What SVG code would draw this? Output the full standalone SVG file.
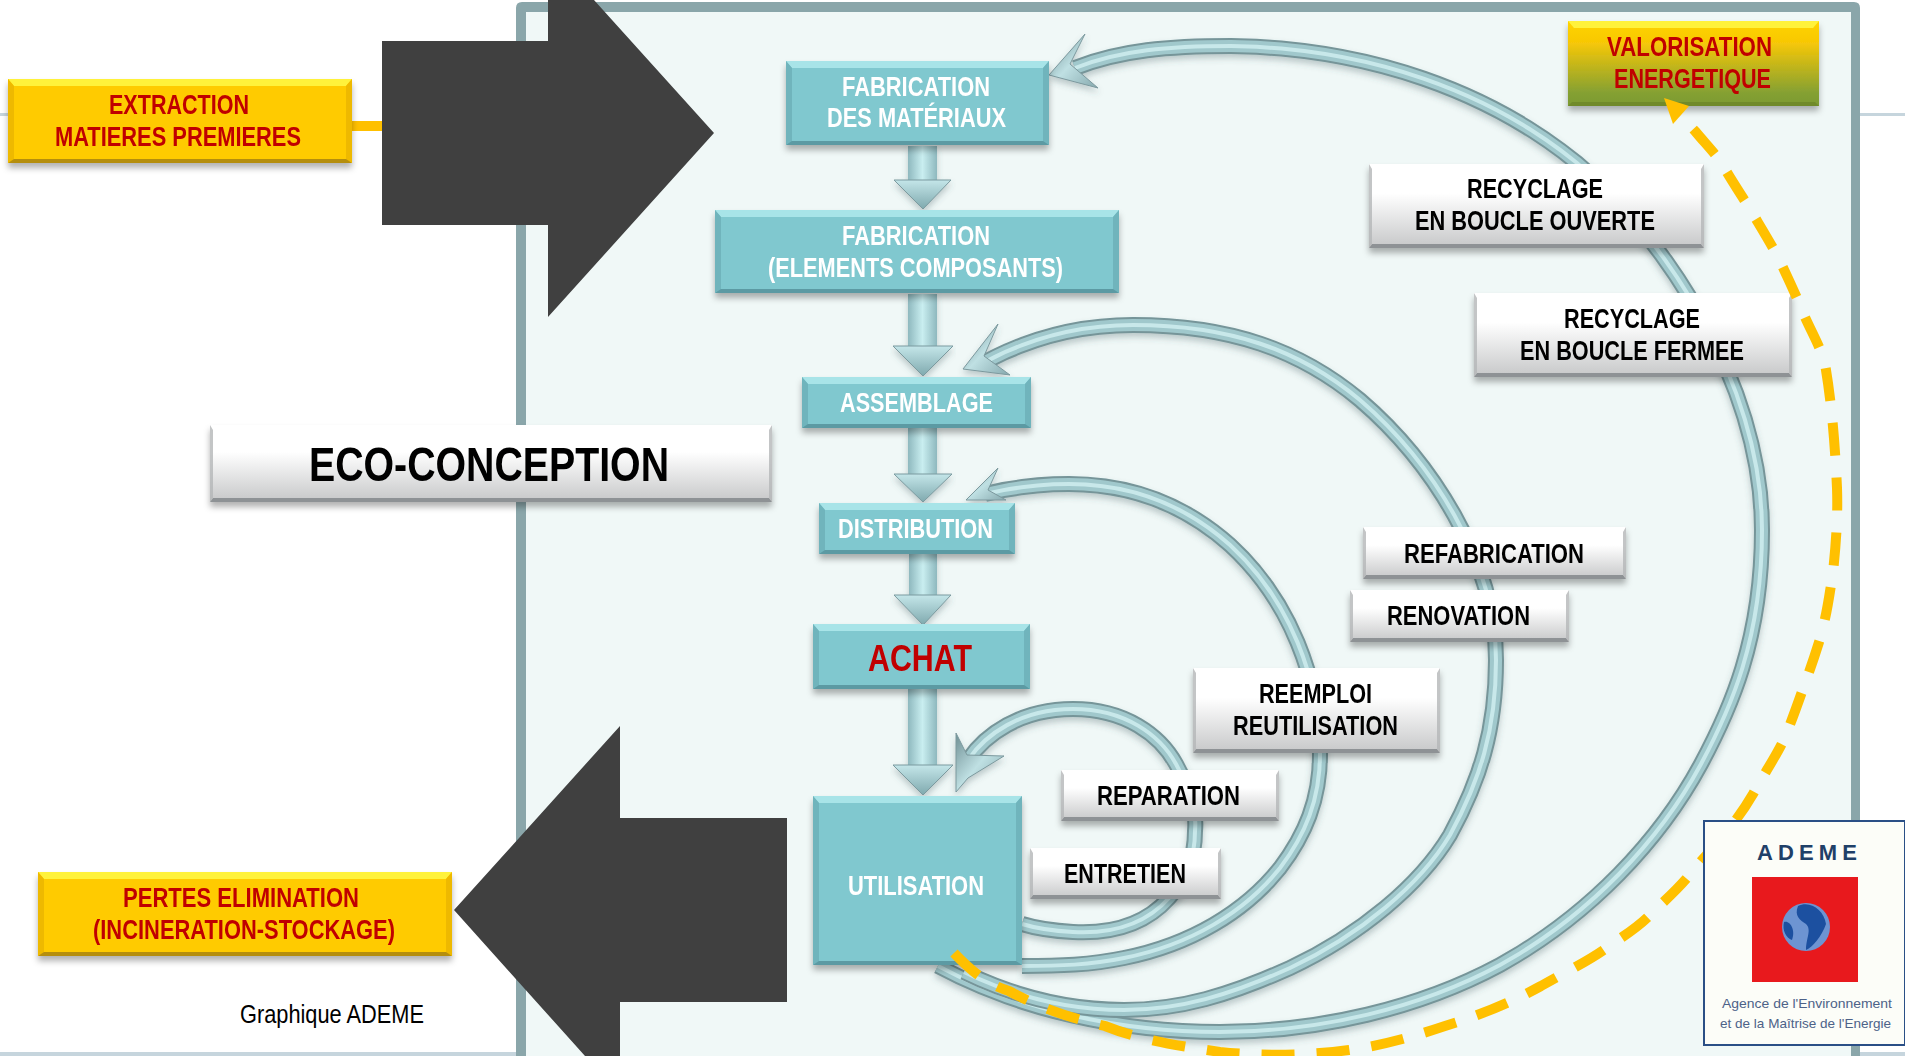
<svg xmlns="http://www.w3.org/2000/svg" xmlns:xlink="http://www.w3.org/1999/xlink" width="1905" height="1056" viewBox="0 0 1905 1056">
<style>
text{font-family:"Liberation Sans",Arial,sans-serif;font-weight:700;font-size:27px}
.w{fill:#fff}.k{fill:#000}.r{fill:#c00000}
.ct{fill:#a8e4e8}.cb{fill:#5c9aa3}.cs{fill:#6fb4bc}.cf{fill:#80c8cf}
.wf{fill:url(#gw)}.wb{fill:#8e9295}.ws{fill:#b4b6b8;opacity:.8}
.yf{fill:#ffcb05}.yt{fill:#fff23a}.yb{fill:#b58e0e}.ys{fill:#eeb900}
.cv1{fill:none;stroke:#769599;stroke-width:16}
.cv2{fill:none;stroke:#a0c8cc;stroke-width:12}
.cv3{fill:none;stroke:#c8e8ea;stroke-width:4}
.hd{fill:url(#gh);stroke:#7c999e;stroke-width:1;stroke-linejoin:miter}
.sh{fill:url(#gs)}.hv{fill:url(#gv);stroke:#7b9a9f;stroke-width:1}
.dark{fill:#404040}
</style>
<defs>
<linearGradient id="gw" x1="0" y1="0" x2="0" y2="1"><stop offset="0" stop-color="#fff"/><stop offset=".35" stop-color="#fff"/><stop offset="1" stop-color="#c6c7c8"/></linearGradient>
<linearGradient id="gy" x1="0" y1="0" x2="0" y2="1"><stop offset="0" stop-color="#ffd400"/><stop offset=".25" stop-color="#f8c806"/><stop offset=".85" stop-color="#84a033"/><stop offset="1" stop-color="#7c9a30"/></linearGradient>
<linearGradient id="gs" x1="0" y1="0" x2="1" y2="0"><stop offset="0" stop-color="#8eb8be"/><stop offset=".5" stop-color="#c9eef0"/><stop offset="1" stop-color="#8eb8be"/></linearGradient>
<linearGradient id="gv" x1="0" y1="0" x2="0" y2="1"><stop offset="0" stop-color="#c4e6e9"/><stop offset="1" stop-color="#7fa9ae"/></linearGradient>
<linearGradient id="gh" x1="0" y1="0" x2="1" y2="1"><stop offset="0" stop-color="#6f8f94"/><stop offset=".5" stop-color="#bfe0e3"/><stop offset="1" stop-color="#86a9ae"/></linearGradient>
<filter id="ds" x="-10%" y="-20%" width="120%" height="150%"><feDropShadow dx="0" dy="5" stdDeviation="3" flood-color="#000" flood-opacity=".3"/></filter>
<filter id="cs" x="-5%" y="-5%" width="110%" height="110%"><feDropShadow dx="0" dy="4" stdDeviation="3" flood-color="#405a5e" flood-opacity=".3"/></filter>
<path id="p1" d="M1075,68 C1120,50 1170,46 1231,46 C1370,48 1490,92 1577,163 C1660,232 1762,380 1762,530 C1762,640 1730,710 1701,764 C1660,840 1590,915 1500,965 C1420,1008 1320,1032 1220,1032 C1120,1032 1020,1010 938,966"/>
<path id="p2" d="M985,362 C1030,338 1080,325 1133,325 C1230,325 1300,350 1360,400 C1430,460 1496,560 1496,660 C1496,730 1480,780 1450,835 C1420,885 1360,935 1290,968 C1230,995 1180,1010 1124,1010 C1060,1010 1005,992 964,972"/>
<path id="p3" d="M985,494 C1010,488 1040,484 1069,484 C1130,484 1185,505 1230,545 C1290,600 1320,680 1320,754 C1320,800 1305,835 1280,868 C1245,912 1190,945 1124,958 C1090,965 1060,966 1022,966"/>
<path id="p4" d="M968,760 C985,735 1020,709 1073,709 C1125,709 1160,735 1176,764 C1190,790 1197,810 1195,831 C1195,860 1185,880 1169,898 C1145,925 1110,934 1073,932 C1055,931 1035,928 1022,924"/>
</defs>

<rect width="1905" height="1056" fill="#fff"/>
<g id="background-lines" fill="#c6d5dd">
<rect x="0" y="113" width="10" height="3"/><rect x="1860" y="113" width="45" height="3"/>
<rect x="0" y="1052" width="516" height="4"/><rect x="1860" y="1052" width="45" height="4"/>
</g>
<g id="panel"><path d="M516,1056 V8 Q516,2 522,2 H1854 Q1860,2 1860,8 V1056 H1851 V12 H526 V1056 Z" fill="#8aa6aa"/><rect x="526" y="12" width="1325" height="1044" fill="#f0f8f7"/></g>

<g id="connectors">
<rect x="352" y="121" width="32" height="10" fill="#ffc000"/>
<g filter="url(#cs)">
<use xlink:href="#p1" href="#p1" class="cv1"/><use xlink:href="#p1" href="#p1" class="cv2"/><use xlink:href="#p1" href="#p1" class="cv3"/>
<use xlink:href="#p2" href="#p2" class="cv1"/><use xlink:href="#p2" href="#p2" class="cv2"/><use xlink:href="#p2" href="#p2" class="cv3"/>
<use xlink:href="#p3" href="#p3" class="cv1"/><use xlink:href="#p3" href="#p3" class="cv2"/><use xlink:href="#p3" href="#p3" class="cv3"/>
<use xlink:href="#p4" href="#p4" class="cv1"/><use xlink:href="#p4" href="#p4" class="cv2"/><use xlink:href="#p4" href="#p4" class="cv3"/>
<path class="hd" d="M1049,75 L1085,34 L1070,64 L1098,88 Z"/>
<path class="hd" d="M963,369 L998,324 L984,356 L1010,375 Z"/>
<path class="hd" d="M966,500 L998,468 L988,490 L1006,500 Z"/>
<path class="hd" d="M956,792 L956,733 L967,755 L1004,756 L968,778 Z"/>
</g>
<g id="down-arrows" filter="url(#cs)">
<rect class="sh" x="908" y="146" width="29" height="34"/><path class="hv" d="M894,180 H951 L923,209 Z"/>
<rect class="sh" x="908" y="294" width="29" height="52"/><path class="hv" d="M893,346 H953 L923,376 Z"/>
<rect class="sh" x="908" y="428" width="29" height="46"/><path class="hv" d="M894,474 H952 L923,502 Z"/>
<rect class="sh" x="909" y="554" width="28" height="41"/><path class="hv" d="M894,595 H951 L923,625 Z"/>
<rect class="sh" x="908" y="689" width="29" height="76"/><path class="hv" d="M893,765 H953 L923,795 Z"/>
</g>
</g>

<g id="arrow-in"><path class="dark" d="M382,41 H548 V0 H594 L714,133 L548,317 V225 H382 Z"/></g>
<g id="arrow-out"><path class="dark" d="M454,910 L620,726 V818 H787 V1002 H620 V1056 H585 Z"/></g>

<g id="fabrication-materiaux" filter="url(#ds)"><rect class="cf" x="786" y="61" width="263" height="84"/><path class="ct" d="M786,61 H1049 L1043,68 H792 Z"/><path class="cb" d="M786,145 H1049 L1045,141 H790 Z"/><path class="cs" d="M786,61 L792,68 V141 L786,145 Z M1049,61 L1043,68 V141 L1049,145 Z"/>
<text class="w" x="842" y="96" textLength="148" lengthAdjust="spacingAndGlyphs">FABRICATION</text><text class="w" x="827" y="127" textLength="179" lengthAdjust="spacingAndGlyphs">DES MATÉRIAUX</text></g>
<g id="fabrication-composants" filter="url(#ds)"><rect class="cf" x="715" y="210" width="404" height="83"/><path class="ct" d="M715,210 H1119 L1113,217 H721 Z"/><path class="cb" d="M715,293 H1119 L1115,289 H719 Z"/><path class="cs" d="M715,210 L721,217 V289 L715,293 Z M1119,210 L1113,217 V289 L1119,293 Z"/>
<text class="w" x="842" y="245" textLength="148" lengthAdjust="spacingAndGlyphs">FABRICATION</text><text class="w" x="768" y="277" textLength="295" lengthAdjust="spacingAndGlyphs">(ELEMENTS COMPOSANTS)</text></g>
<g id="assemblage" filter="url(#ds)"><rect class="cf" x="802" y="377" width="229" height="51"/><path class="ct" d="M802,377 H1031 L1025,384 H808 Z"/><path class="cb" d="M802,428 H1031 L1027,424 H806 Z"/><path class="cs" d="M802,377 L808,384 V424 L802,428 Z M1031,377 L1025,384 V424 L1031,428 Z"/>
<text class="w" x="840" y="412" textLength="153" lengthAdjust="spacingAndGlyphs">ASSEMBLAGE</text></g>
<g id="distribution" filter="url(#ds)"><rect class="cf" x="819" y="503" width="196" height="51"/><path class="ct" d="M819,503 H1015 L1009,510 H825 Z"/><path class="cb" d="M819,554 H1015 L1011,550 H823 Z"/><path class="cs" d="M819,503 L825,510 V550 L819,554 Z M1015,503 L1009,510 V550 L1015,554 Z"/>
<text class="w" x="838" y="538" textLength="155" lengthAdjust="spacingAndGlyphs">DISTRIBUTION</text></g>
<g id="achat" filter="url(#ds)"><rect class="cf" x="813" y="624" width="217" height="65"/><path class="ct" d="M813,624 H1030 L1024,631 H819 Z"/><path class="cb" d="M813,689 H1030 L1026,685 H817 Z"/><path class="cs" d="M813,624 L819,631 V685 L813,689 Z M1030,624 L1024,631 V685 L1030,689 Z"/>
<text class="r" x="868" y="671" style="font-size:37px" textLength="104" lengthAdjust="spacingAndGlyphs">ACHAT</text></g>
<g id="utilisation" filter="url(#ds)"><rect class="cf" x="813" y="796" width="209" height="169"/><path class="ct" d="M813,796 H1022 L1016,803 H819 Z"/><path class="cb" d="M813,965 H1022 L1018,961 H817 Z"/><path class="cs" d="M813,796 L819,803 V961 L813,965 Z M1022,796 L1016,803 V961 L1022,965 Z"/>
<text class="w" x="848" y="895" textLength="136" lengthAdjust="spacingAndGlyphs">UTILISATION</text></g>

<g id="eco-conception" filter="url(#ds)"><rect class="wf" x="210" y="425" width="562" height="77"/><path class="wb" d="M210,502 H772 L769,498 H213 Z"/><path class="ws" d="M210,425 L213,430 V498 L210,502 Z M772,425 L769,430 V498 L772,502 Z"/>
<text class="k" x="309" y="481" style="font-size:49px" textLength="360" lengthAdjust="spacingAndGlyphs">ECO-CONCEPTION</text></g>
<g id="recyclage-ouverte" filter="url(#ds)"><rect class="wf" x="1369" y="164" width="335" height="84"/><path class="wb" d="M1369,248 H1704 L1701,244 H1372 Z"/><path class="ws" d="M1369,164 L1372,169 V244 L1369,248 Z M1704,164 L1701,169 V244 L1704,248 Z"/>
<text class="k" x="1467" y="198" textLength="136" lengthAdjust="spacingAndGlyphs">RECYCLAGE</text><text class="k" x="1415" y="230" textLength="240" lengthAdjust="spacingAndGlyphs">EN BOUCLE OUVERTE</text></g>
<g id="recyclage-fermee" filter="url(#ds)"><rect class="wf" x="1474" y="293" width="318" height="84"/><path class="wb" d="M1474,377 H1792 L1789,373 H1477 Z"/><path class="ws" d="M1474,293 L1477,298 V373 L1474,377 Z M1792,293 L1789,298 V373 L1792,377 Z"/>
<text class="k" x="1564" y="328" textLength="136" lengthAdjust="spacingAndGlyphs">RECYCLAGE</text><text class="k" x="1520" y="360" textLength="224" lengthAdjust="spacingAndGlyphs">EN BOUCLE FERMEE</text></g>
<g id="refabrication" filter="url(#ds)"><rect class="wf" x="1363" y="527" width="263" height="52"/><path class="wb" d="M1363,579 H1626 L1623,575 H1366 Z"/><path class="ws" d="M1363,527 L1366,532 V575 L1363,579 Z M1626,527 L1623,532 V575 L1626,579 Z"/>
<text class="k" x="1404" y="563" textLength="180" lengthAdjust="spacingAndGlyphs">REFABRICATION</text></g>
<g id="renovation" filter="url(#ds)"><rect class="wf" x="1350" y="590" width="219" height="52"/><path class="wb" d="M1350,642 H1569 L1566,638 H1353 Z"/><path class="ws" d="M1350,590 L1353,595 V638 L1350,642 Z M1569,590 L1566,595 V638 L1569,642 Z"/>
<text class="k" x="1387" y="625" textLength="143" lengthAdjust="spacingAndGlyphs">RENOVATION</text></g>
<g id="reemploi" filter="url(#ds)"><rect class="wf" x="1193" y="668" width="247" height="85"/><path class="wb" d="M1193,753 H1440 L1437,749 H1196 Z"/><path class="ws" d="M1193,668 L1196,673 V749 L1193,753 Z M1440,668 L1437,673 V749 L1440,753 Z"/>
<text class="k" x="1259" y="703" textLength="113" lengthAdjust="spacingAndGlyphs">REEMPLOI</text><text class="k" x="1233" y="735" textLength="165" lengthAdjust="spacingAndGlyphs">REUTILISATION</text></g>
<g id="reparation" filter="url(#ds)"><rect class="wf" x="1061" y="770" width="218" height="51"/><path class="wb" d="M1061,821 H1279 L1276,817 H1064 Z"/><path class="ws" d="M1061,770 L1064,775 V817 L1061,821 Z M1279,770 L1276,775 V817 L1279,821 Z"/>
<text class="k" x="1097" y="805" textLength="143" lengthAdjust="spacingAndGlyphs">REPARATION</text></g>
<g id="entretien" filter="url(#ds)"><rect class="wf" x="1030" y="848" width="191" height="51"/><path class="wb" d="M1030,899 H1221 L1218,895 H1033 Z"/><path class="ws" d="M1030,848 L1033,853 V895 L1030,899 Z M1221,848 L1218,853 V895 L1221,899 Z"/>
<text class="k" x="1064" y="883" textLength="122" lengthAdjust="spacingAndGlyphs">ENTRETIEN</text></g>

<g id="extraction" filter="url(#ds)"><rect class="yf" x="8" y="79" width="344" height="84"/><path class="yt" d="M8,79 H352 L346,86 H14 Z"/><path class="yb" d="M8,163 H352 L348,159 H12 Z"/><path class="ys" d="M8,79 L14,86 V159 L8,163 Z M352,79 L346,86 V159 L352,163 Z"/>
<text class="r" x="109" y="114" textLength="140" lengthAdjust="spacingAndGlyphs">EXTRACTION</text><text class="r" x="55" y="146" textLength="246" lengthAdjust="spacingAndGlyphs">MATIERES PREMIERES</text></g>
<g id="pertes" filter="url(#ds)"><rect class="yf" x="38" y="872" width="414" height="84"/><path class="yt" d="M38,872 H452 L446,879 H44 Z"/><path class="yb" d="M38,956 H452 L448,952 H42 Z"/><path class="ys" d="M38,872 L44,879 V952 L38,956 Z M452,872 L446,879 V952 L452,956 Z"/>
<text class="r" x="123" y="907" textLength="236" lengthAdjust="spacingAndGlyphs">PERTES ELIMINATION</text><text class="r" x="93" y="939" textLength="302" lengthAdjust="spacingAndGlyphs">(INCINERATION-STOCKAGE)</text></g>
<g id="valorisation" filter="url(#ds)"><rect fill="url(#gy)" x="1568" y="21" width="251" height="85"/><path class="yt" d="M1568,21 H1819 L1813,28 H1574 Z"/><path fill="#6f8a2a" d="M1568,106 H1819 L1815,102 H1572 Z"/>
<text class="r" x="1607" y="56" textLength="165" lengthAdjust="spacingAndGlyphs">VALORISATION</text><text class="r" x="1614" y="88" textLength="157" lengthAdjust="spacingAndGlyphs">ENERGETIQUE</text></g>

<text id="credit" x="240" y="1023" style="font-weight:400;font-size:25px" fill="#000" textLength="184" lengthAdjust="spacingAndGlyphs">Graphique ADEME</text>

<g id="valorisation-arrow">
<path d="M954,953 C975,975 990,985 1009,991 C1040,1008 1070,1018 1105,1026 C1140,1040 1180,1046 1220,1052 C1260,1056 1305,1056 1349,1050 C1385,1045 1415,1036 1445,1026 C1480,1015 1510,1003 1541,986 C1565,972 1585,963 1605,949 C1620,938 1635,930 1650,915 C1665,900 1680,888 1695,868 C1715,845 1735,825 1753,794 C1765,772 1777,755 1785,737 C1792,720 1798,703 1804,686 C1810,670 1815,655 1820,639 C1828,610 1830,590 1833,572 C1836,545 1838,515 1837,488 C1835,445 1832,405 1825,364 C1820,345 1810,330 1802,310 C1795,293 1787,276 1779,259 C1770,242 1760,226 1750,209 C1740,193 1730,178 1721,162 C1712,150 1704,142 1695,131 L1677,112" fill="none" stroke="#ffc000" stroke-width="10" stroke-dasharray="33 22"/>
<path d="M1664,98 L1689,106 L1673,124 Z" fill="#ffc000"/>
</g>

<g id="ademe-logo">
<rect x="1704" y="821" width="201" height="224" fill="#fcfdf8" stroke="#2a4f86" stroke-width="2"/>
<text x="1757" y="860" style="font-size:22px" fill="#1f4068" textLength="100" lengthAdjust="spacing">ADEME</text>
<rect x="1752" y="877" width="106" height="105" fill="#e8191d"/>
<circle cx="1806" cy="927" r="24" fill="#6d94d2"/>
<path d="M1798,906 C1810,900 1824,910 1826,924 C1822,936 1812,948 1806,950 C1806,938 1812,930 1806,924 C1800,920 1794,916 1798,906 Z M1784,922 C1790,920 1796,930 1792,940 C1786,938 1782,930 1784,922 Z" fill="#1c50a0"/>
<text x="1722" y="1008" style="font-weight:400;font-size:13.5px" fill="#4d6288" textLength="170" lengthAdjust="spacingAndGlyphs">Agence de l'Environnement</text>
<text x="1720" y="1028" style="font-weight:400;font-size:13.5px" fill="#4d6288" textLength="171" lengthAdjust="spacingAndGlyphs">et de la Maîtrise de l'Energie</text>
</g>
</svg>
